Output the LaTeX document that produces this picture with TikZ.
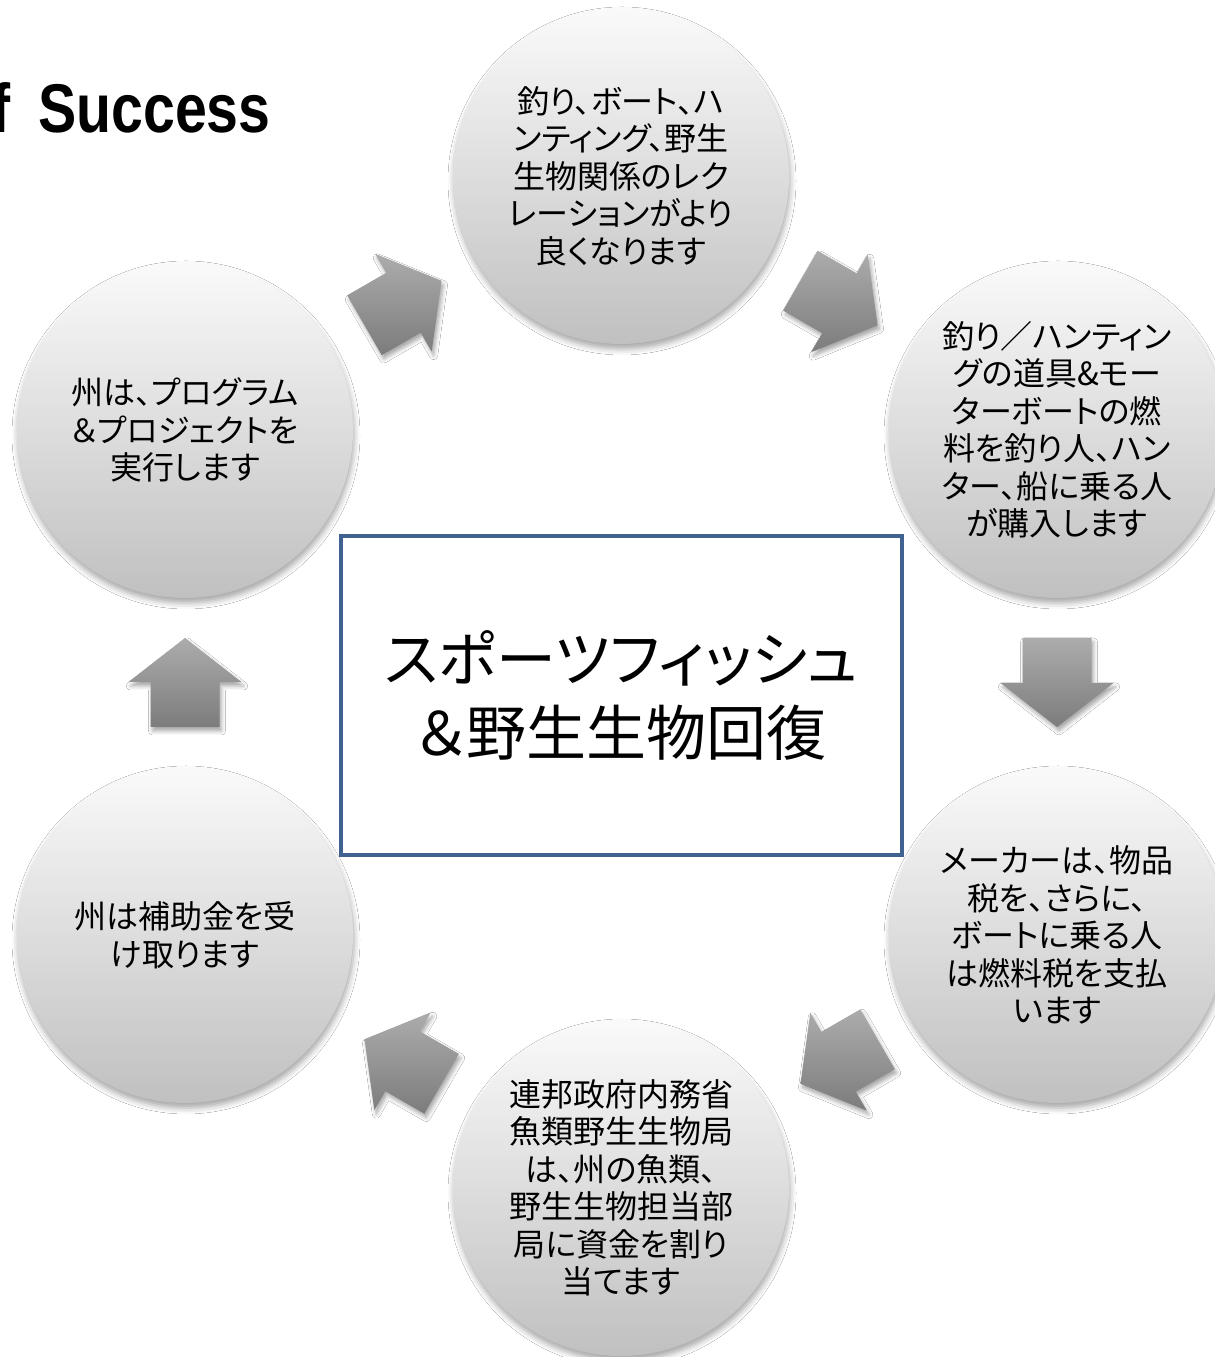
\documentclass[tikz,border=0pt]{standalone}
\usepackage{fontspec}
\setmainfont{Noto Sans CJK JP}[RawFeature=+palt]
\newfontfamily\titlefont{Liberation Sans Bold}[FakeStretch=0.83]
\usetikzlibrary{calc,shadows.blur}
\definecolor{circtop}{RGB}{250,250,250}
\definecolor{circbot}{RGB}{192,192,192}
\definecolor{arrtop}{RGB}{172,172,172}
\definecolor{arrbot}{RGB}{124,124,124}
\definecolor{boxblue}{RGB}{64,98,145}
\tikzset{
  circ/.style={circle, minimum size=336pt, inner sep=0pt, top color=circtop, bottom color=circbot,
    blur shadow={shadow xshift=1pt, shadow yshift=-5pt, shadow blur radius=6pt, shadow opacity=35},
    font=\fontsize{32}{37.5}\selectfont, align=center, text=black},
  blk/.style={top color=arrtop, bottom color=arrbot,
    blur shadow={shadow xshift=2pt, shadow yshift=-4pt, shadow blur radius=4pt, shadow opacity=35}},
  mainbox/.style={draw=boxblue, line width=4pt, fill=white, minimum width=561pt, minimum height=319pt,
    inner sep=0pt, align=center, font=\fontsize{60}{74}\selectfont},
  titletext/.style={font=\titlefont\fontsize{69}{80}\selectfont, inner sep=0pt}
}
\newcommand\blkarrow[4]{%
  \coordinate (#1) at ($(#2)!0.5!(#3)$);
  \path[blk] ($(#1)+(#4+180:44.5pt)+(#4+90:34.5pt)$) -- ($(#1)+(#4:0.5pt)+(#4+90:34.5pt)$)
    -- ($(#1)+(#4:0.5pt)+(#4+90:56.5pt)$) -- ($(#1)+(#4:44.5pt)$)
    -- ($(#1)+(#4:0.5pt)+(#4-90:56.5pt)$) -- ($(#1)+(#4:0.5pt)+(#4-90:34.5pt)$)
    -- ($(#1)+(#4+180:44.5pt)+(#4-90:34.5pt)$) -- cycle;
}
\begin{document}
\begin{tikzpicture}[x=1pt,y=1pt]
\useasboundingbox (0,0) rectangle (1215,1357);
\fill[white] (0,0) rectangle (1215,1357);

\node[titletext, anchor=base west] (title) at (-9,1224) {f\hspace{12pt} Success};

\node[circ] (t)  at (621,1181) {釣り、ボート、ハ\\ンティング、野生\\生物関係のレク\\レーションがより\\良くなります};
\node[circ] (tr) at (1057,927) {釣り／ハンティン\\グの道具\&モー\\ターボートの燃\\料を釣り人、ハン\\ター、船に乗る人\\が購入します};
\node[circ] (br) at (1057,422) {メーカーは、物品\\税を、さらに、\\ボートに乗る人\\は燃料税を支払\\います};
\node[circ] (b)  at (621,169)  {連邦政府内務省\\魚類野生生物局\\は、州の魚類、\\野生生物担当部\\局に資金を割り\\当てます};
\node[circ] (bl) at (185,422)  {州は補助金を受\\け取ります};
\node[circ] (tl) at (185,927)  {州は、プログラム\\＆プロジェクトを\\実行します};

\blkarrow{a1}{tl}{t}{30}
\blkarrow{a2}{t}{tr}{-30}
\blkarrow{a3}{tr}{br}{-90}
\blkarrow{a4}{br}{b}{-150}
\blkarrow{a5}{b}{bl}{150}
\blkarrow{a6}{bl}{tl}{90}

\node[mainbox] (box) at (621.5,661.5) {スポーツフィッシュ\\＆野生生物回復};
\end{tikzpicture}
\end{document}
